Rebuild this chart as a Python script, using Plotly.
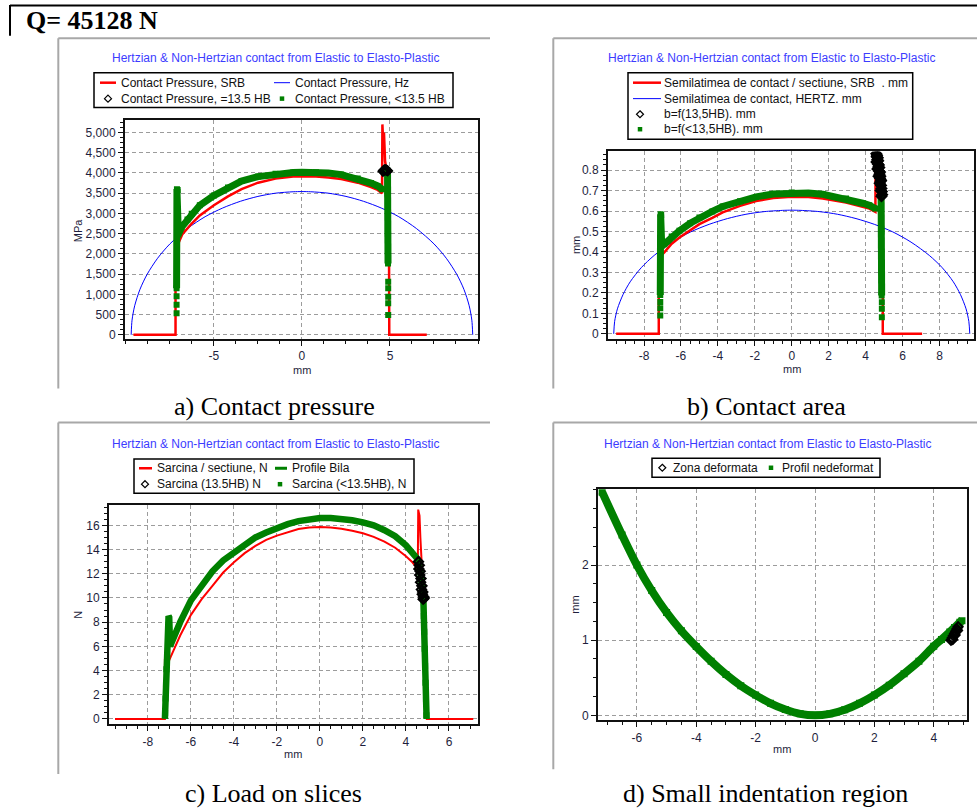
import plotly.graph_objects as go

# ---------------- data ----------------
# a) Contact pressure [MPa] vs position [mm]
hz_a_x = [-9.70, -9.65, -9.50, -9.20, -8.80, -8.20, -7.50, -6.50, -5.50, -4.50, -3.50, -2.50, -1.50, -0.50, 0.00,
          0.50, 1.50, 2.50, 3.50, 4.50, 5.50, 6.50, 7.50, 8.20, 8.80, 9.20, 9.50, 9.65, 9.70]
hz_a_y = [0, 361, 717, 1123, 1489, 1891, 2246, 2627, 2918, 3134, 3299, 3420, 3500, 3535, 3540,
          3535, 3500, 3420, 3299, 3134, 2918, 2627, 2246, 1891, 1489, 1123, 717, 361, 0]
srb_a_x = [-9.57, -7.18, -7.18, -7.02, -6.80, -6.50, -6.26, -5.80, -5.00, -4.20, -3.43, -2.49, -1.50, -0.50, 0.00,
           0.80, 1.50, 2.23, 3.17, 3.92, 4.30, 4.55, 4.57, 4.62, 4.66, 4.72, 4.80, 4.94, 4.96, 4.96, 7.09]
srb_a_y = [0, 0, 2250, 2260, 2480, 2640, 2750, 2950, 3200, 3420, 3600, 3760, 3860, 3910, 3920,
           3910, 3890, 3850, 3760, 3650, 3580, 3500, 5200, 4700, 5000, 4300, 4080, 3100, 1300, 0, 0]
lt_a_x = [-7.12, None, -7.12, None, -7.12, None, -7.12, -7.10, -7.06, -7.02, -6.83, -6.50, -6.26, -5.80, -5.00,
          -4.20, -3.43, -2.49, -1.50, -0.50, 0.00, 0.80, 1.50, 2.23, 3.17, 3.92, 4.30, 4.55, None,
          4.86, 4.87, 4.88, 4.89, None, 4.90, None, 4.90, None, 4.90, None, 4.90, None, 4.90]
lt_a_y = [530, None, 740, None, 950, None, 1150, 3600, 3580, 2480, 2664, 2850, 2990, 3200, 3440,
          3640, 3800, 3910, 3980, 4010, 4016, 4016, 4000, 3960, 3860, 3750, 3680, 3600, None,
          4060, 3500, 2500, 1760, None, 1310, None, 1150, None, 940, None, 780, None, 490]
eq_a_x = [4.60, 4.64, 4.68, 4.72, 4.76, 4.80, 4.84, 4.87]
eq_a_y = [4040, 4060, 4075, 4080, 4075, 4070, 4060, 4050]

# b) Contact half-width [mm] vs position [mm]
hz_b_x = [-9.64, -9.59, -9.44, -9.14, -8.75, -8.15, -7.45, -6.46, -5.47, -4.47, -3.48, -2.48, -1.49, -0.50, 0.00,
          0.50, 1.49, 2.48, 3.48, 4.47, 5.47, 6.46, 7.45, 8.15, 8.75, 9.14, 9.44, 9.59, 9.64]
hz_b_y = [0, 0.061, 0.122, 0.191, 0.254, 0.323, 0.383, 0.448, 0.498, 0.535, 0.563, 0.584, 0.597, 0.603, 0.604,
          0.603, 0.597, 0.584, 0.563, 0.535, 0.498, 0.448, 0.383, 0.323, 0.254, 0.191, 0.122, 0.061, 0]
srb_b_x = [-9.51, -7.20, -7.20, -7.10, -6.90, -6.50, -6.08, -5.50, -5.00, -4.30, -3.74, -2.80, -1.93, -1.00, 0.00,
           0.90, 1.68, 2.94, 3.84, 4.20, 4.53, 4.54, 4.70, 4.85, 4.93, 4.93, 7.06]
srb_b_y = [0, 0, 0.375, 0.380, 0.398, 0.440, 0.471, 0.505, 0.536, 0.566, 0.593, 0.625, 0.649, 0.663, 0.670,
           0.668, 0.661, 0.641, 0.622, 0.612, 0.596, 0.800, 0.820, 0.720, 0.660, 0, 0]
lt_b_x = [-7.12, None, -7.12, None, -7.12, None, -7.12, -7.10, -7.07, -7.04, -6.90, -6.50, -6.08, -5.50, -5.00,
          -4.30, -3.74, -2.80, -1.93, -1.00, 0.00, 0.90, 1.68, 2.94, 3.84, 4.20, 4.53, None,
          4.84, 4.85, 4.86, 4.87, None, 4.88, None, 4.88, None, 4.88]
lt_b_y = [0.089, None, 0.125, None, 0.155, None, 0.190, 0.584, 0.580, 0.430, 0.438, 0.475, 0.503, 0.540, 0.568,
          0.598, 0.622, 0.648, 0.669, 0.683, 0.690, 0.688, 0.682, 0.661, 0.638, 0.628, 0.612, None,
          0.674, 0.500, 0.300, 0.187, None, 0.154, None, 0.122, None, 0.081]
eq_b_x = [4.58, 4.60, 4.63, 4.59, 4.66, 4.69, 4.64, 4.72, 4.75, 4.70, 4.78, 4.81, 4.76, 4.84, 4.86, 4.82, 4.88,
          4.90, 4.86, 4.62, 4.68, 4.74, 4.80, 4.66, 4.72, 4.78, 4.84]
eq_b_y = [0.880, 0.865, 0.850, 0.840, 0.830, 0.815, 0.805, 0.795, 0.780, 0.770, 0.760, 0.745, 0.735, 0.725, 0.710,
          0.700, 0.695, 0.680, 0.672, 0.872, 0.845, 0.812, 0.770, 0.860, 0.825, 0.790, 0.750]

# c) Load on slices [N] vs position [mm]
srb_c_x = [-9.53, -7.21, -7.21, -7.00, -6.75, -6.50, -6.00, -5.50, -5.00, -4.50, -4.00, -3.50, -3.00, -2.50, -2.00,
           -1.50, -1.00, -0.50, 0.00, 0.50, 1.00, 1.50, 2.00, 2.50, 3.00, 3.50, 4.00, 4.30, 4.55, 4.57, 4.63,
           4.67, 4.72, 4.80, 4.90, 4.97, 7.13]
srb_c_y = [0, 0, 4.9, 4.9, 5.9, 6.9, 8.6, 9.9, 11.0, 12.1, 12.95, 13.7, 14.3, 14.8, 15.15,
           15.45, 15.7, 15.82, 15.86, 15.82, 15.72, 15.55, 15.35, 15.05, 14.65, 14.15, 13.45, 12.95, 12.4, 17.3, 16.8,
           15.0, 13.4, 10.5, 5.0, 0, 0]
pb_c_x = [-7.21, -7.12, -7.04, -7.01, -6.97, -6.75, -6.50, -6.00, -5.50, -5.00, -4.50, -4.00, -3.50, -3.00, -2.50,
          -2.00, -1.50, -1.00, -0.50, 0.00, 0.50, 1.00, 1.50, 2.00, 2.50, 3.00, 3.50, 4.00, 4.30, 4.55, 4.65,
          4.75, 4.81, 4.86, 4.90, 4.94, 4.96]
pb_c_y = [0, 4.9, 8.5, 8.4, 6.0, 7.0, 8.0, 9.8, 11.1, 12.2, 13.1, 13.75, 14.4, 15.0, 15.4,
          15.8, 16.1, 16.35, 16.52, 16.6, 16.6, 16.55, 16.42, 16.25, 16.0, 15.6, 15.1, 14.35, 13.8, 13.2, 12.4,
          11.0, 9.9, 6.5, 3.5, 1.0, 0]
lt_c_x = [-7.20, -7.18, -7.16, -7.14, 4.78, 4.81, 4.83, 4.85, 4.87, 4.89, 4.91, 4.93, 4.95]
lt_c_y = [0.5, 1.7, 2.9, 4.1, 10.6, 9.9, 8.5, 7.2, 5.8, 4.4, 3.0, 1.6, 0.3]
eq_c_x = [4.58, 4.62, 4.60, 4.66, 4.64, 4.70, 4.68, 4.74, 4.72, 4.78, 4.76, 4.82, 4.80, 4.85]
eq_c_y = [13.0, 12.7, 12.4, 12.2, 11.9, 11.6, 11.3, 11.0, 10.7, 10.5, 10.3, 10.1, 9.9, 10.0]

# d) Small indentation region [mm] vs position [mm]
nd_d_x = [-7.17, -6.50, -6.00, -5.50, -5.00, -4.50, -4.00, -3.50, -3.00, -2.50, -2.00, -1.50, -1.00, -0.50, 0.00,
          0.50, 1.00, 1.50, 2.00, 2.50, 3.00, 3.50, 4.00, 4.26, 4.54, 4.70, 4.88, 4.95]
nd_d_y = [2.97, 2.40, 2.00, 1.66, 1.37, 1.125, 0.915, 0.72, 0.545, 0.395, 0.27, 0.16, 0.078, 0.02, 0.00,
          0.02, 0.075, 0.16, 0.27, 0.40, 0.555, 0.72, 0.92, 1.01, 1.11, 1.17, 1.24, 1.26]
zd_d_x = [4.58, 4.62, 4.66, 4.70, 4.74, 4.78, 4.82, 4.64, 4.72, 4.80]
zd_d_y = [1.00, 1.03, 1.06, 1.09, 1.12, 1.15, 1.18, 1.01, 1.07, 1.13]

# tick labels
a_xt = [-5, 0, 5]
a_xt_txt = ["-5", "0", "5"]
a_yt = [0, 500, 1000, 1500, 2000, 2500, 3000, 3500, 4000, 4500, 5000]
a_yt_txt = ["0", "500", "1,000", "1,500", "2,000", "2,500", "3,000", "3,500", "4,000", "4,500", "5,000"]
b_xt = [-8, -6, -4, -2, 0, 2, 4, 6, 8]
b_xt_txt = ["-8", "-6", "-4", "-2", "0", "2", "4", "6", "8"]
b_yt = [0, 0.1, 0.2, 0.3, 0.4, 0.5, 0.6, 0.7, 0.8]
b_yt_txt = ["0", "0.1", "0.2", "0.3", "0.4", "0.5", "0.6", "0.7", "0.8"]
c_xt = [-8, -6, -4, -2, 0, 2, 4, 6]
c_xt_txt = ["-8", "-6", "-4", "-2", "0", "2", "4", "6"]
c_yt = [0, 2, 4, 6, 8, 10, 12, 14, 16]
c_yt_txt = ["0", "2", "4", "6", "8", "10", "12", "14", "16"]
d_xt = [-6, -4, -2, 0, 2, 4]
d_xt_txt = ["-6", "-4", "-2", "0", "2", "4"]
d_yt = [0, 1, 2]
d_yt_txt = ["0", "1", "2"]

# ---------------- styling ----------------
W, H = 977, 809
def X(p): return p / W
def Y(p): return 1 - p / H

RED, BLUE, GREEN, BLACK = "#ff0000", "#0000ff", "#008000", "#000000"
SANS = "Liberation Sans, Arial, sans-serif"
SERIF = "Liberation Serif, Times New Roman, serif"
TICKC = "#1e1e3c"
TITLE = "Hertzian &amp; Non-Hertzian contact from Elastic to Elasto-Plastic"

fig = go.Figure()

def lines(x, y, ax, color, width, name, shape="linear"):
    fig.add_trace(go.Scatter(x=x, y=y, xaxis=ax[0], yaxis=ax[1], mode="lines", name=name, showlegend=False,
                             line=dict(color=color, width=width, shape=shape, smoothing=0.8)))

def squares(x, y, ax, name, width=7, size=6, shape="linear", mode="lines+markers"):
    fig.add_trace(go.Scatter(x=x, y=y, xaxis=ax[0], yaxis=ax[1], mode=mode, name=name, showlegend=False,
                             line=dict(color=GREEN, width=width, shape=shape, smoothing=0.8),
                             marker=dict(symbol="square", size=size, color=GREEN, line=dict(width=0))))

def diamonds(x, y, ax, name, lw=1.8):
    fig.add_trace(go.Scatter(x=x, y=y, xaxis=ax[0], yaxis=ax[1], mode="markers", name=name, showlegend=False,
                             marker=dict(symbol="diamond-open", size=7, color=BLACK, line=dict(width=lw, color=BLACK))))

A, B, C, D = ("x", "y"), ("x2", "y2"), ("x3", "y3"), ("x4", "y4")

# panel a
lines(hz_a_x, hz_a_y, A, BLUE, 1, "Contact Pressure, Hz", "spline")
lines(srb_a_x, srb_a_y, A, RED, 2.5, "Contact Pressure, SRB")
squares(lt_a_x, lt_a_y, A, "Contact Pressure, <13.5 HB")
diamonds(eq_a_x, eq_a_y, A, "Contact Pressure, =13.5 HB")
# panel b
lines(hz_b_x, hz_b_y, B, BLUE, 1, "Semilatimea de contact, HERTZ. mm", "spline")
lines(srb_b_x, srb_b_y, B, RED, 2.5, "Semilatimea de contact / sectiune, SRB . mm")
squares(lt_b_x, lt_b_y, B, "b=f(<13,5HB). mm")
diamonds(eq_b_x, eq_b_y, B, "b=f(13,5HB). mm", lw=2.5)
# panel c
lines(srb_c_x, srb_c_y, C, RED, 2, "Sarcina / sectiune, N")
lines(pb_c_x, pb_c_y, C, GREEN, 6.5, "Profile Bila")
squares(lt_c_x, lt_c_y, C, "Sarcina (<13.5HB), N", mode="markers")
diamonds(eq_c_x, eq_c_y, C, "Sarcina (13.5HB) N", lw=2.2)
# panel d
squares(nd_d_x, nd_d_y, D, "Profil nedeformat", width=8, size=7, shape="spline")
diamonds(zd_d_x, zd_d_y, D, "Zona deformata", lw=2)

common = dict(showline=True, linecolor="#111111", linewidth=2, mirror=True, ticks="outside", ticklen=5,
              tickwidth=1, tickcolor="#111111", showgrid=True, gridcolor="#9c9c9c", griddash="4px,3px",
              gridwidth=1, zeroline=False, tickfont=dict(family=SANS, size=12, color=TICKC), tickmode="array")

def axis(dom, anchor, rng, vals, txt, mdt):
    return dict(domain=dom, anchor=anchor, range=rng, tickvals=vals, ticktext=txt,
                minor=dict(dtick=mdt, tick0=0, ticks="outside", ticklen=3, tickwidth=1,
                           tickcolor="#111111", showgrid=False), **common)

fig.update_layout(
    width=W, height=H, margin=dict(l=0, r=0, t=0, b=0), showlegend=False,
    paper_bgcolor="white", plot_bgcolor="white",
    xaxis=axis([X(125), X(478)], "y", [-10.05, 10.0], a_xt, a_xt_txt, 1.25),
    yaxis=axis([Y(340), Y(120)], "x", [-98, 5320], a_yt, a_yt_txt, 125),
    xaxis2=axis([X(608), X(974)], "y2", [-9.95, 9.87], b_xt, b_xt_txt, 0.5),
    yaxis2=axis([Y(340), Y(152)], "x2", [-0.024, 0.891], b_yt, b_yt_txt, 0.025),
    xaxis3=axis([X(109), X(478)], "y3", [-9.81, 7.35], c_xt, c_xt_txt, 0.5),
    yaxis3=axis([Y(727), Y(507)], "x3", [-0.44, 17.67], c_yt, c_yt_txt, 0.5),
    xaxis4=axis([X(598), X(967)], "y4", [-7.31, 5.12], d_xt, d_xt_txt, 0.5),
    yaxis4=axis([Y(723), Y(491)], "x4", [-0.066, 3.01], d_yt, d_yt_txt, 0.25),
)

shapes, annotations = [], []

def pline(x0, y0, x1, y1, color, width):
    shapes.append(dict(type="line", xref="paper", yref="paper", x0=X(x0), y0=Y(y0), x1=X(x1), y1=Y(y1),
                       line=dict(color=color, width=width)))

def text(x, y, t, size=12, color="#111111", family=SANS, xanchor="left", angle=0):
    annotations.append(dict(x=X(x), y=Y(y), xref="paper", yref="paper", text=t, showarrow=False,
                            xanchor=xanchor, yanchor="middle", textangle=angle,
                            font=dict(family=family, size=size, color=color)))

def box(x0, y0, x1, y1):
    shapes.append(dict(type="rect", xref="paper", yref="paper", x0=X(x0), y0=Y(y0), x1=X(x1), y1=Y(y1),
                       line=dict(color="#000000", width=1.5), fillcolor="white"))

def diamond(cx, cy, r=3.5):
    path = (f"M {X(cx)},{Y(cy - r)} L {X(cx + r)},{Y(cy)} L {X(cx)},{Y(cy + r)} L {X(cx - r)},{Y(cy)} Z")
    shapes.append(dict(type="path", xref="paper", yref="paper", path=path,
                       line=dict(color="#000000", width=1.2), fillcolor="rgba(0,0,0,0)"))

def square(cx, cy, s=4.5):
    shapes.append(dict(type="rect", xref="paper", yref="paper", x0=X(cx - s / 2), x1=X(cx + s / 2),
                       y0=Y(cy + s / 2), y1=Y(cy - s / 2), line=dict(width=0), fillcolor=GREEN))

# outer frame lines
pline(10, 5.5, 977, 5.5, "#000000", 2)
pline(10, 5, 10, 36, "#000000", 2)
text(24, 21, "<b>Q= 45128 N</b>", size=26, color="#000000", family=SERIF)
GRAY = "#a8a8a8"
for (lx, ty, rx, by) in [(58.3, 38.5, 490, 390), (553.3, 38.5, 977, 390),
                         (58.3, 424, 490, 777), (553.3, 424, 977, 772)]:
    pline(lx, ty, rx, ty, GRAY, 2)
    pline(lx, ty, lx, by, GRAY, 2)

# chart titles
for (cx, cy) in [(275, 58), (771, 58), (275, 446), (767, 446)]:
    text(cx, cy, TITLE, size=12, color="#3c3cff", xanchor="center")

# captions
text(274, 408, "a) Contact pressure", size=26, color="#000000", family=SERIF, xanchor="center")
text(766, 408, "b) Contact area", size=26, color="#000000", family=SERIF, xanchor="center")
text(273, 796, "c) Load on slices", size=26, color="#000000", family=SERIF, xanchor="center")
text(765, 796, "d) Small indentation region", size=26, color="#000000", family=SERIF, xanchor="center")

# axis titles
AXT = dict(size=11, color=TICKC)
text(78, 231, "MPa", xanchor="center", angle=-90, **AXT)
text(302, 371, "mm", xanchor="center", **AXT)
text(576, 246, "mm", xanchor="center", angle=-90, **AXT)
text(792, 370, "mm", xanchor="center", **AXT)
text(78, 617, "N", xanchor="center", angle=-90, **AXT)
text(293, 757, "mm", xanchor="center", **AXT)
text(575, 607, "mm", xanchor="center", angle=-90, **AXT)
text(782, 752, "mm", xanchor="center", **AXT)

# legend a
box(94, 73, 453, 108)
pline(100, 83, 116, 83, RED, 2.5)
text(119, 83, "Contact Pressure, SRB")
pline(274, 83, 290, 83, BLUE, 1)
text(293, 83, "Contact Pressure, Hz")
diamond(108, 99)
text(119, 99, "Contact Pressure, =13.5 HB")
square(282, 99)
text(293, 99, "Contact Pressure, &lt;13.5 HB")
# legend b
box(628, 73, 912.7, 139.7)
pline(633, 83, 661, 83, RED, 2.5)
text(662, 83, "Semilatimea de contact / sectiune, SRB\u00a0\u00a0. mm")
pline(633, 99, 661, 99, BLUE, 1)
text(662, 99, "Semilatimea de contact, HERTZ. mm")
diamond(640, 114.7)
text(662, 114.7, "b=f(13,5HB). mm")
square(640, 129.7)
text(662, 129.7, "b=f(&lt;13,5HB). mm")
# legend c
box(134, 460.7, 414, 495)
pline(139, 470, 152, 470, RED, 2.5)
text(155, 470, "Sarcina / sectiune, N")
pline(275, 470, 287, 470, GREEN, 3)
text(290, 470, "Profile Bila")
diamond(145, 486)
text(155, 486, "Sarcina (13.5HB) N")
square(280, 486)
text(290, 486, "Sarcina (&lt;13.5HB), N")
# legend d
box(652, 460, 880, 479)
diamond(662.3, 469.5)
text(671, 469.5, "Zona deformata")
square(771, 469.5)
text(780, 469.5, "Profil nedeformat")

fig.update_layout(shapes=shapes, annotations=annotations)
# remove the browser's default 8px body margin so the 977x809 figure fills the window exactly
fig.write_html("out.html", config={"displayModeBar": False},
               post_script="document.body.style.margin='0';document.body.style.overflow='hidden';")
